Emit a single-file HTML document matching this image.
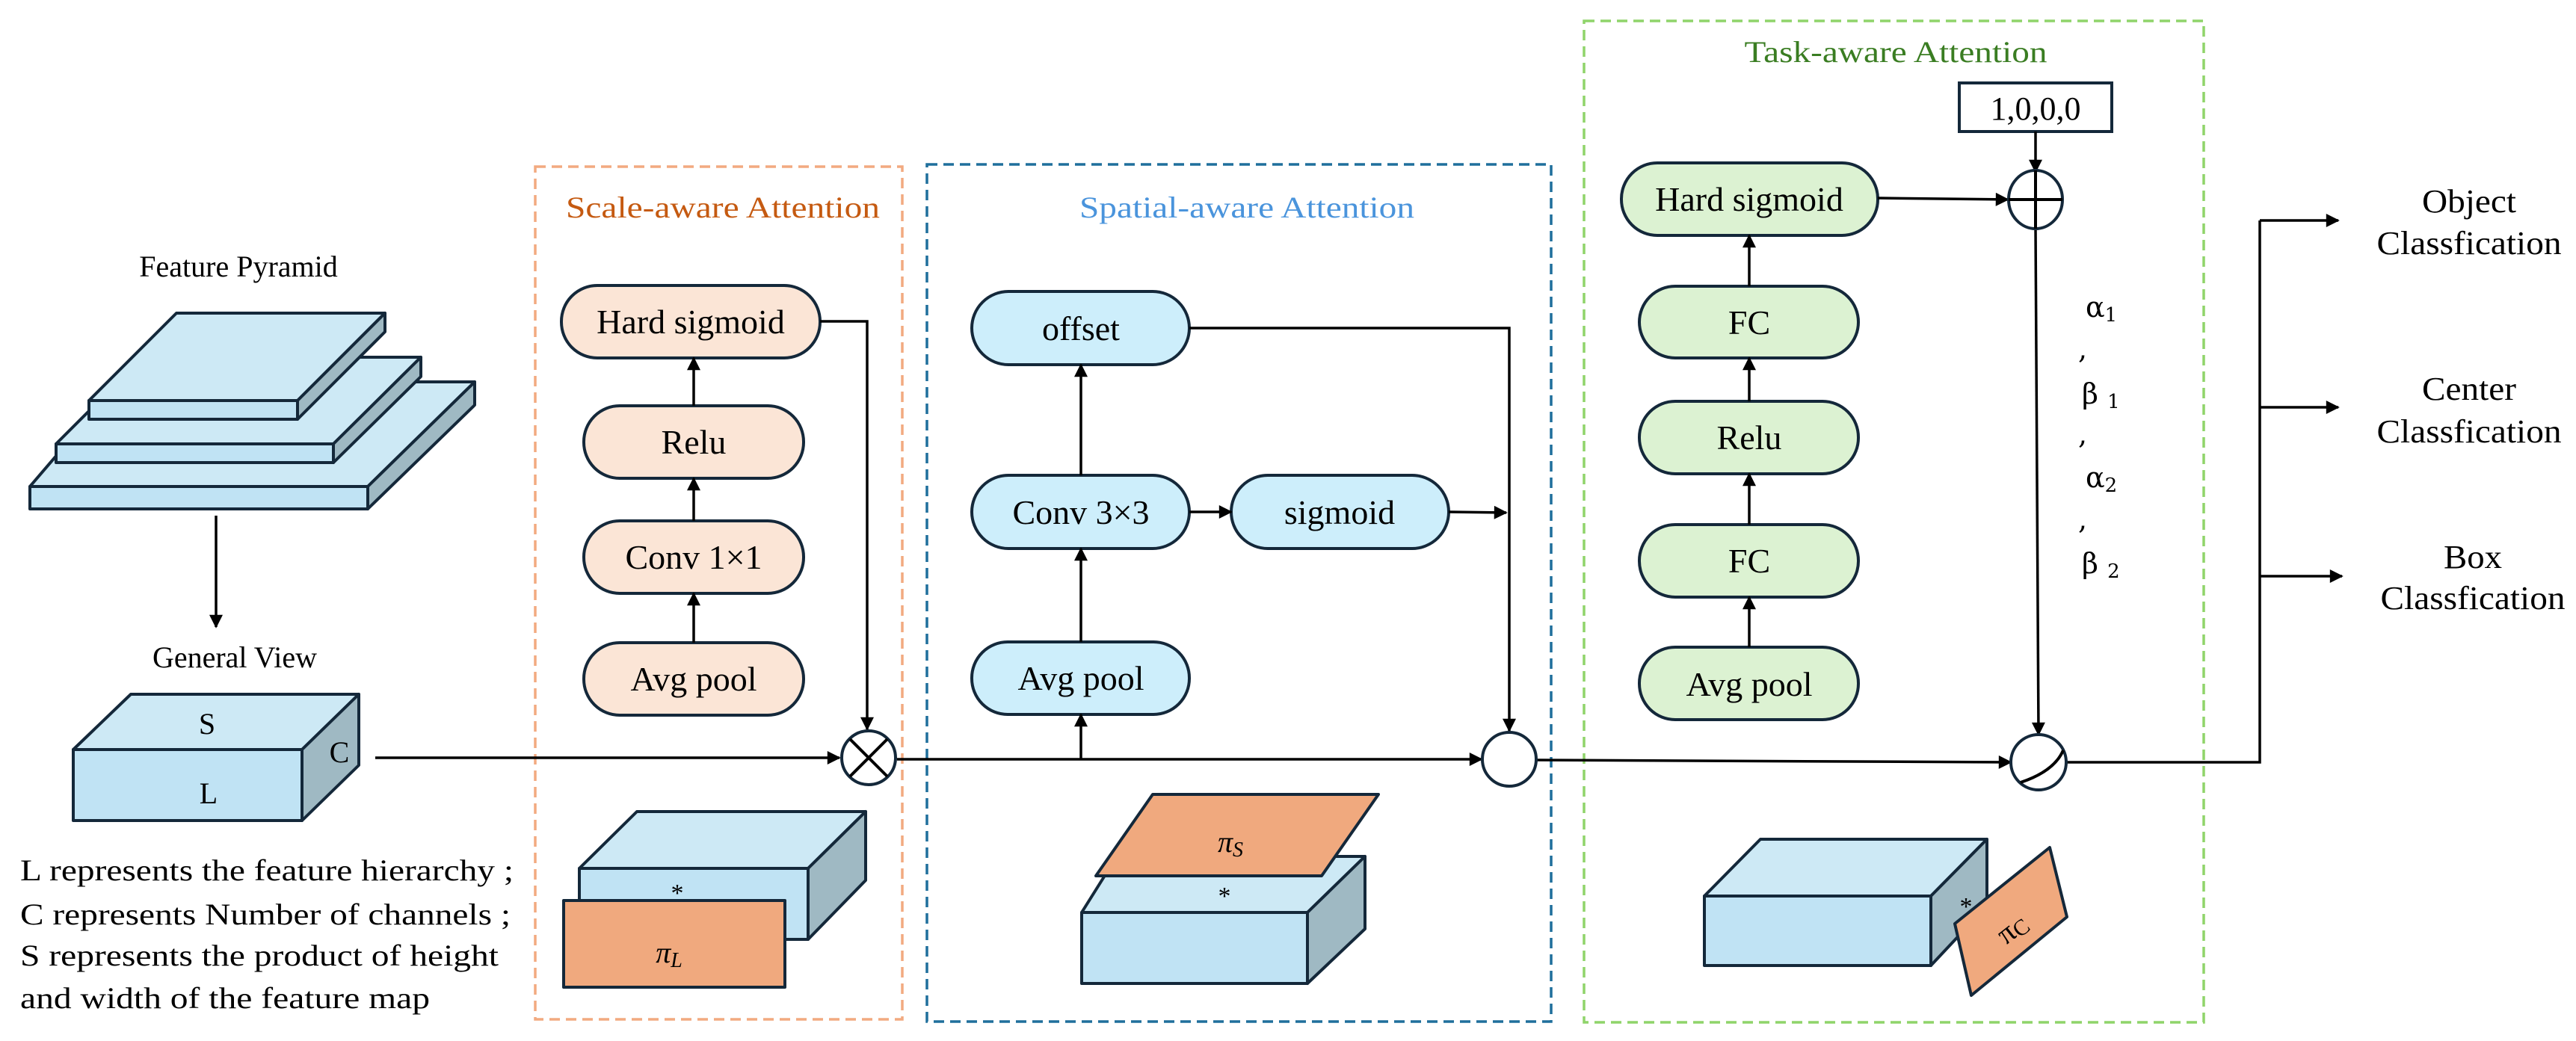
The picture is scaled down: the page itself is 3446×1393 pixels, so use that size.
<!DOCTYPE html>
<html><head><meta charset="utf-8"><style>html,body{margin:0;padding:0;background:#fff}svg{display:block}svg text{font-family:"Liberation Serif",serif}</style></head>
<body>
<svg width="3446" height="1393" viewBox="0 0 3446 1393" xmlns="http://www.w3.org/2000/svg">
<defs>
<marker id="b" viewBox="0 0 10 10" refX="9" refY="5" markerWidth="22" markerHeight="18" markerUnits="userSpaceOnUse" orient="auto"><path d="M0,0 L10,5 L0,10 z" fill="#000"/></marker>
</defs>
<g stroke="#14283a" stroke-width="4" stroke-linejoin="round">
<polygon points="40,651 160,511 635,511 492,651" fill="#cde9f5"/>
<polygon points="40,651 492,651 492,681 40,681" fill="#c0e3f4"/>
<polygon points="492,651 635,511 635,542 492,681" fill="#9fb9c3"/>
<polygon points="75,594 191,478 563,478 446,594" fill="#cde9f5"/>
<polygon points="75,594 446,594 446,619 75,619" fill="#c0e3f4"/>
<polygon points="446,594 563,478 563,504 446,619" fill="#9fb9c3"/>
<polygon points="119,536 236,419 515,419 398,536" fill="#cde9f5"/>
<polygon points="119,536 398,536 398,561 119,561" fill="#c0e3f4"/>
<polygon points="398,536 515,419 515,444 398,561" fill="#9fb9c3"/>
<polygon points="98,1003 175,929 480,929 404,1003" fill="#cde9f5"/>
<polygon points="98,1003 404,1003 404,1098 98,1098" fill="#c0e3f4"/>
<polygon points="404,1003 480,929 480,1024 404,1098" fill="#9fb9c3"/>
<polygon points="775,1162 852,1086 1158,1086 1081,1162" fill="#cde9f5"/>
<polygon points="775,1162 1081,1162 1081,1257 775,1257" fill="#c0e3f4"/>
<polygon points="1081,1162 1158,1086 1158,1178 1081,1257" fill="#9fb9c3"/>
<rect x="754" y="1205" width="296" height="116" fill="#f0a97e"/>
<polygon points="1447,1221 1494,1146 1826,1146 1749,1221" fill="#cde9f5"/>
<polygon points="1447,1221 1749,1221 1749,1316 1447,1316" fill="#c0e3f4"/>
<polygon points="1749,1221 1826,1146 1826,1243 1749,1316" fill="#9fb9c3"/>
<polygon points="1542,1063 1844,1063 1768,1172 1466,1172" fill="#f0a97e"/>
<polygon points="2280,1199 2355,1123 2658,1123 2583,1199" fill="#cde9f5"/>
<polygon points="2280,1199 2583,1199 2583,1292 2280,1292" fill="#c0e3f4"/>
<polygon points="2583,1199 2658,1123 2658,1212 2583,1292" fill="#9fb9c3"/>
<polygon points="2615,1236 2742,1134 2765,1227 2637,1332" fill="#f0a97e"/>
</g>
<rect x="716" y="223" width="491" height="1141" fill="none" stroke="#f2aa80" stroke-width="3.5" stroke-dasharray="14,8"/>
<rect x="1240" y="220" width="835" height="1147" fill="none" stroke="#1f6f9c" stroke-width="3.5" stroke-dasharray="14,8"/>
<rect x="2119" y="28" width="829" height="1340" fill="none" stroke="#8fd46a" stroke-width="3.5" stroke-dasharray="14,8"/>
<g stroke="#14283a" stroke-width="4">
<rect x="751" y="382" width="346" height="97" rx="48" fill="#fbe5d6"/>
<rect x="781" y="543" width="294" height="97" rx="48" fill="#fbe5d6"/>
<rect x="781" y="697" width="294" height="97" rx="48" fill="#fbe5d6"/>
<rect x="781" y="860" width="294" height="97" rx="48" fill="#fbe5d6"/>
<rect x="1300" y="390" width="291" height="98" rx="49" fill="#cdeefb"/>
<rect x="1300" y="636" width="291" height="98" rx="49" fill="#cdeefb"/>
<rect x="1647" y="636" width="291" height="98" rx="49" fill="#cdeefb"/>
<rect x="1300" y="859" width="291" height="97" rx="48" fill="#cdeefb"/>
<rect x="2169" y="218" width="343" height="97" rx="48" fill="#dcf2d2"/>
<rect x="2193" y="383" width="293" height="96" rx="48" fill="#dcf2d2"/>
<rect x="2193" y="537" width="293" height="97" rx="48" fill="#dcf2d2"/>
<rect x="2193" y="702" width="293" height="97" rx="48" fill="#dcf2d2"/>
<rect x="2193" y="866" width="293" height="97" rx="48" fill="#dcf2d2"/>
<rect x="2621" y="111" width="204" height="65" fill="#fff"/>
</g>
<g stroke="#000" stroke-width="3.5" fill="none">
<line x1="289" y1="690" x2="289" y2="839" marker-end="url(#b)"/>
<line x1="502" y1="1014" x2="1123" y2="1014" marker-end="url(#b)"/>
<line x1="928" y1="860" x2="928" y2="794" marker-end="url(#b)"/>
<line x1="928" y1="697" x2="928" y2="640" marker-end="url(#b)"/>
<line x1="928" y1="543" x2="928" y2="479" marker-end="url(#b)"/>
<polyline points="1097,430 1160,430 1160,976" marker-end="url(#b)"/>
<line x1="1200" y1="1016" x2="1982" y2="1016" marker-end="url(#b)"/>
<line x1="1446" y1="1016" x2="1446" y2="956" marker-end="url(#b)"/>
<line x1="1446" y1="859" x2="1446" y2="734" marker-end="url(#b)"/>
<line x1="1446" y1="636" x2="1446" y2="488" marker-end="url(#b)"/>
<line x1="1591" y1="685" x2="1647" y2="685" marker-end="url(#b)"/>
<line x1="1938" y1="685" x2="2015" y2="686" marker-end="url(#b)"/>
<polyline points="1591,439 2019,439 2019,978" marker-end="url(#b)"/>
<line x1="2056" y1="1017" x2="2690" y2="1020" marker-end="url(#b)"/>
<line x1="2340" y1="866" x2="2340" y2="799" marker-end="url(#b)"/>
<line x1="2340" y1="702" x2="2340" y2="634" marker-end="url(#b)"/>
<line x1="2340" y1="537" x2="2340" y2="479" marker-end="url(#b)"/>
<line x1="2340" y1="383" x2="2340" y2="315" marker-end="url(#b)"/>
<line x1="2512" y1="265" x2="2686" y2="267" marker-end="url(#b)"/>
<line x1="2723" y1="176" x2="2723" y2="230" marker-end="url(#b)"/>
<line x1="2723" y1="304" x2="2727" y2="983" marker-end="url(#b)"/>
<polyline points="2764,1020 3023,1020 3023,295"/>
<line x1="3023" y1="295" x2="3128" y2="295" marker-end="url(#b)"/>
<line x1="3023" y1="545" x2="3128" y2="545" marker-end="url(#b)"/>
<line x1="3023" y1="771" x2="3133" y2="771" marker-end="url(#b)"/>
</g>
<g stroke="#14283a" stroke-width="4" fill="#fff">
<circle cx="1162" cy="1014" r="36"/>
<circle cx="2019" cy="1016" r="36"/>
<ellipse cx="2723" cy="267" rx="36" ry="39"/>
<ellipse cx="2727" cy="1020" rx="37" ry="37"/>
</g>
<g stroke="#000" stroke-width="4" fill="none">
<line x1="1137" y1="989" x2="1187" y2="1039"/><line x1="1187" y1="989" x2="1137" y2="1039"/>
<line x1="2687" y1="267" x2="2759" y2="267"/><line x1="2723" y1="228" x2="2723" y2="306"/>
<path d="M2703,1047 Q2748,1032 2760,1004"/>
</g>
<g font-family="Liberation Serif, serif" font-size="40" fill="#000" text-anchor="middle">
<text x="319" y="370">Feature Pyramid</text>
<text x="314" y="893">General View</text>
<text x="277" y="982">S</text>
<text x="454" y="1020">C</text>
<text x="279" y="1075">L</text>
</g>
<g font-family="Liberation Serif, serif" font-size="40" fill="#000">
<text x="27" y="1178" textLength="660" lengthAdjust="spacingAndGlyphs">L represents the feature hierarchy ;</text>
<text x="27" y="1237" textLength="656" lengthAdjust="spacingAndGlyphs">C represents Number of channels ;</text>
<text x="27" y="1292" textLength="640" lengthAdjust="spacingAndGlyphs">S represents the product of height</text>
<text x="27" y="1349" textLength="548" lengthAdjust="spacingAndGlyphs">and width of the feature map</text>
</g>
<g font-family="Liberation Serif, serif" font-size="46" fill="#000" text-anchor="middle">
<text x="924" y="446">Hard sigmoid</text>
<text x="928" y="607">Relu</text>
<text x="928" y="761">Conv 1×1</text>
<text x="928" y="924">Avg pool</text>
<text x="1446" y="455">offset</text>
<text x="1446" y="701">Conv 3×3</text>
<text x="1792" y="701">sigmoid</text>
<text x="1446" y="923">Avg pool</text>
<text x="2340" y="282">Hard sigmoid</text>
<text x="2340" y="447">FC</text>
<text x="2340" y="601">Relu</text>
<text x="2340" y="766">FC</text>
<text x="2340" y="931">Avg pool</text>
<text x="2723" y="160" font-size="44">1,0,0,0</text>
</g>
<text x="967" y="291" font-family="Liberation Serif, serif" font-size="40" fill="#c55a11" text-anchor="middle" textLength="420" lengthAdjust="spacingAndGlyphs">Scale-aware Attention</text>
<text x="1668" y="291" font-family="Liberation Serif, serif" font-size="40" fill="#4a94dc" text-anchor="middle" textLength="448" lengthAdjust="spacingAndGlyphs">Spatial-aware Attention</text>
<text x="2536" y="83" font-family="Liberation Serif, serif" font-size="40" fill="#3a7d22" text-anchor="middle" textLength="405" lengthAdjust="spacingAndGlyphs">Task-aware Attention</text>
<g font-family="Liberation Serif, serif" font-size="40" fill="#000" text-anchor="middle">
<text x="906" y="1206" font-size="34">*</text>
<text x="895" y="1288" font-style="italic">π<tspan font-size="28" dy="6">L</tspan></text>
<text x="1638" y="1210" font-size="34">*</text>
<text x="1646" y="1140" font-style="italic">π<tspan font-size="28" dy="6">S</tspan></text>
<text x="2630" y="1224" font-size="34">*</text>
<text x="2692" y="1255" transform="rotate(-38 2692 1243)">π<tspan font-size="30" dy="4">C</tspan></text>
</g>
<g font-family="DejaVu Serif, serif" font-size="38" fill="#000">
<text x="2790" y="424" style="font-family:'DejaVu Serif',serif">α<tspan font-size="26" dy="6">1</tspan></text>
<text x="2780" y="480" style="font-family:'DejaVu Serif',serif">,</text>
<text x="2785" y="540" style="font-family:'DejaVu Serif',serif">β <tspan font-size="26" dy="6">1</tspan></text>
<text x="2780" y="594" style="font-family:'DejaVu Serif',serif">,</text>
<text x="2790" y="652" style="font-family:'DejaVu Serif',serif">α<tspan font-size="26" dy="6">2</tspan></text>
<text x="2780" y="708" style="font-family:'DejaVu Serif',serif">,</text>
<text x="2785" y="767" style="font-family:'DejaVu Serif',serif">β <tspan font-size="26" dy="6">2</tspan></text>
</g>
<g font-family="Liberation Serif, serif" font-size="44" fill="#000" text-anchor="middle">
<text x="3303" y="284" textLength="126" lengthAdjust="spacingAndGlyphs">Object</text>
<text x="3303" y="340" textLength="247" lengthAdjust="spacingAndGlyphs">Classfication</text>
<text x="3303" y="535" textLength="126" lengthAdjust="spacingAndGlyphs">Center</text>
<text x="3303" y="592" textLength="247" lengthAdjust="spacingAndGlyphs">Classfication</text>
<text x="3308" y="760" textLength="78" lengthAdjust="spacingAndGlyphs">Box</text>
<text x="3308" y="815" textLength="247" lengthAdjust="spacingAndGlyphs">Classfication</text>
</g>
</svg>
</body></html>
